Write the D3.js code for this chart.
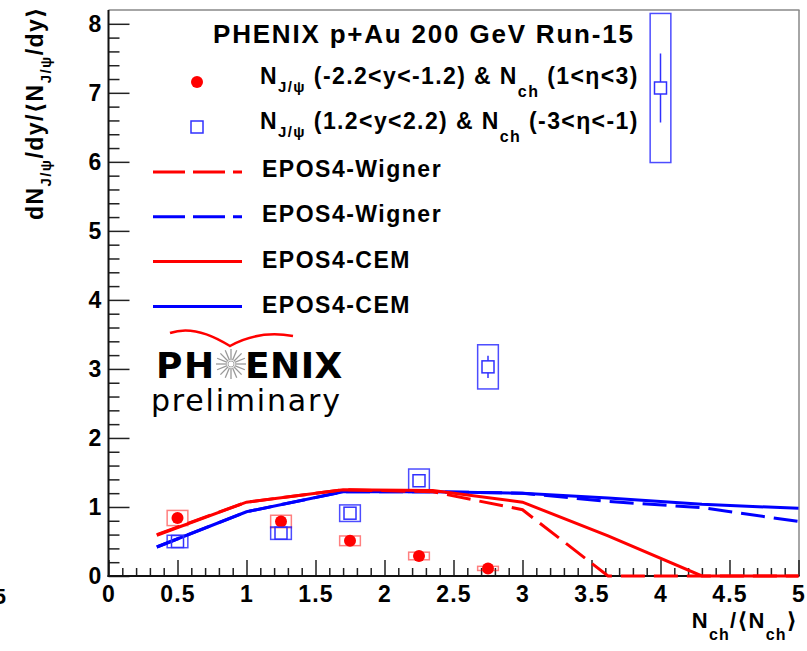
<!DOCTYPE html>
<html>
<head>
<meta charset="utf-8">
<script src="https://cdn.jsdelivr.net/npm/d3@7"></script>
<style>
    body { margin: 0; background: #fff; }
    svg { display: block; }
    text { font-family: "Liberation Sans", Arial, "DejaVu Sans", sans-serif; }
</style>
</head>
<body>
<div id="chart"></div>
<script>
// data points
const redX = [0.5, 1.25, 1.75, 2.25, 2.75];
const redY = [0.84, 0.79, 0.51, 0.29, 0.11];
const redSys = [0.11, 0.09, 0.07, 0.055, 0.03];

const blueX = [0.5, 1.25, 1.75, 2.25, 2.75, 4.0];
const blueY = [0.5, 0.62, 0.91, 1.38, 3.03, 7.07];
const blueStat = [0.03, 0.04, 0.05, 0.08, 0.16, 0.5];
const blueSys = [0.09, 0.09, 0.12, 0.17, 0.32, 1.08];

// EPOS4 model curves
const modelX = [0.35, 1.0, 1.7, 2.35, 3.0, 3.62, 4.3, 5.0];
const redCEM = [0.59, 1.07, 1.25, 1.24, 1.07, 0.58, 0, 0];
const redWigner = [0.6, 1.07, 1.25, 1.22, 0.96, 0, 0, 0];
const blueCEM = [0.42, 0.93, 1.22, 1.22, 1.2, 1.13, 1.04, 0.98];
const blueWigner = [0.42, 0.93, 1.22, 1.22, 1.2, 1.08, 0.99, 0.79];

// ticks
const xMajor = [0, 0.5, 1, 1.5, 2, 2.5, 3, 3.5, 4, 4.5, 5];
const yMajor = [0, 1, 2, 3, 4, 5, 6, 7, 8];

const legendTitle = "PHENIX p+Au 200 GeV Run-15";
const curveLabels = ["EPOS4-Wigner", "EPOS4-Wigner", "EPOS4-CEM", "EPOS4-CEM"];

// chart size
const width = 807;
const height = 651;
const frame = {left: 108.5, right: 798.5, top: 10, bottom: 576};
const red = "#ff0000";
const blue = "#0000ff";

const xScale = d3.scaleLinear().domain([0, 5]).range([frame.left, frame.right]);
const yScale = d3.scaleLinear().domain([0, 8.2]).range([frame.bottom, frame.top]);

const svg = d3.select("#chart").append("svg")
    .attr("width", width)
    .attr("height", height);

// helper for text with subscripts: parts = [text, shift, size]
function richText(sel, parts, size) {
    let cur = 0;
    parts.forEach(function(p) {
        const shift = p[1] || 0;
        sel.append("tspan")
            .attr("dy", shift - cur)
            .attr("font-size", p[2] || size)
            .text(p[0]);
        cur = shift;
    });
}

// frame (top and right are grey)
svg.append("line")
    .attr("x1", frame.left).attr("x2", frame.right + 1)
    .attr("y1", frame.top).attr("y2", frame.top)
    .attr("stroke", "#888").attr("stroke-width", 1.5);
svg.append("line")
    .attr("x1", frame.right + 0.5).attr("x2", frame.right + 0.5)
    .attr("y1", frame.top).attr("y2", frame.bottom)
    .attr("stroke", "#888").attr("stroke-width", 1.5);

// minor ticks
const xMinor = d3.range(0, 50).map(function(i) { return i / 10; }).filter(function(v) { return Math.round(v * 10) % 5 !== 0; });
const yMinor = d3.range(1, 41).map(function(i) { return i / 5; }).filter(function(v) { return Math.round(v * 5) % 5 !== 0; });

svg.append("g")
    .attr("class", "x-minor")
    .attr("transform", "translate(0," + frame.bottom + ")")
    .call(d3.axisBottom(xScale).tickValues(xMinor).tickSize(-8).tickFormat(""));

svg.append("g")
    .attr("class", "y-minor")
    .attr("transform", "translate(" + frame.left + ",0)")
    .call(d3.axisLeft(yScale).tickValues(yMinor).tickSize(-11).tickFormat(""));

// major axes
const xAxis = d3.axisBottom(xScale).tickValues(xMajor).tickSize(-16).tickPadding(10)
    .tickFormat(function(d) { return d3.format("")(d); });
const yAxis = d3.axisLeft(yScale).tickValues(yMajor).tickSize(-21).tickPadding(6);

svg.append("g")
    .attr("class", "x-axis axis")
    .attr("transform", "translate(0," + frame.bottom + ")")
    .call(xAxis);

svg.append("g")
    .attr("class", "y-axis axis")
    .attr("transform", "translate(" + frame.left + ",0)")
    .call(yAxis);

svg.selectAll(".axis, .x-minor, .y-minor").select(".domain").remove();
svg.selectAll(".tick line").attr("stroke", "#222").attr("stroke-width", 1.5);
svg.selectAll(".axis text")
    .attr("font-size", 23)
    .attr("font-weight", "bold")
    .attr("fill", "#000")
    .attr("letter-spacing", 1.2)
    .style("font-family", "'Liberation Sans', Arial, sans-serif");

// axis lines
svg.append("line")
    .attr("x1", frame.left).attr("x2", frame.left)
    .attr("y1", frame.top).attr("y2", frame.bottom + 1)
    .attr("stroke", "#111").attr("stroke-width", 2);
svg.append("line")
    .attr("x1", frame.left - 1).attr("x2", frame.right + 1)
    .attr("y1", frame.bottom).attr("y2", frame.bottom)
    .attr("stroke", "#111").attr("stroke-width", 2);

// axis titles
const xTitle = svg.append("text")
    .attr("x", 798)
    .attr("y", 628)
    .attr("text-anchor", "end")
    .attr("font-weight", "bold")
    .attr("letter-spacing", 1.2);
richText(xTitle, [["N", 0], ["ch", 12, 16], ["/\u27E8N", 0], ["ch", 12, 16], ["\u27E9", 0]], 22);

const yTitle = svg.append("text")
    .attr("transform", "translate(43,6) rotate(-90)")
    .attr("text-anchor", "end")
    .attr("font-weight", "bold")
    .attr("letter-spacing", 1.4);
richText(yTitle, [["dN", 0], ["J/\u03C8", 8, 15], ["/dy/\u27E8N", 0], ["J/\u03C8", 8, 15], ["/dy\u27E9", 0]], 23);

// clipped glyph at the left edge of the page
svg.append("text")
    .attr("x", 6).attr("y", 604)
    .attr("text-anchor", "end")
    .attr("font-size", 22)
    .attr("font-weight", "bold")
    .text("5");

// systematic boxes
function sysBoxes(xs, ys, sys, color, opacity) {
    svg.append("g").selectAll("rect").data(xs).enter()
        .append("rect")
            .attr("x", function(d) { return xScale(d - 0.075); })
            .attr("width", function(d) { return xScale(d + 0.075) - xScale(d - 0.075); })
            .attr("y", function(d, i) { return yScale(ys[i] + sys[i]); })
            .attr("height", function(d, i) { return yScale(ys[i] - sys[i]) - yScale(ys[i] + sys[i]); })
            .attr("fill", "none")
            .attr("stroke", color)
            .attr("stroke-opacity", opacity)
            .attr("stroke-width", 1.5);
}
sysBoxes(redX, redY, redSys, red, 0.5);
sysBoxes(blueX, blueY, blueSys, blue, 0.7);

// blue statistical error bars (outside the marker)
const statG = svg.append("g");
blueX.forEach(function(d, i) {
    const cx = xScale(d);
    const cy = yScale(blueY[i]);
    const top = yScale(blueY[i] + blueStat[i]);
    const bot = yScale(blueY[i] - blueStat[i]);
    if (cy - top > 6) {
        statG.append("line").attr("x1", cx).attr("x2", cx).attr("y1", top).attr("y2", cy - 6);
        statG.append("line").attr("x1", cx).attr("x2", cx).attr("y1", cy + 6).attr("y2", bot);
    }
});
statG.selectAll("line").attr("stroke", "#3030ff").attr("stroke-width", 1.5);

// model curves
const line = d3.line()
    .x(function(d) { return xScale(d[0]); })
    .y(function(d) { return yScale(d[1]); });

function curve(ys, color, dashed) {
    svg.append("path")
        .datum(modelX.map(function(x, i) { return [x, ys[i]]; }))
        .attr("d", line)
        .attr("fill", "none")
        .attr("stroke", color)
        .attr("stroke-width", 3)
        .attr("stroke-dasharray", dashed ? "24,9" : null);
}
curve(blueCEM, blue, false);
curve(blueWigner, blue, true);
curve(redCEM, red, false);
curve(redWigner, red, true);

// markers
svg.append("g").selectAll("circle").data(redX).enter()
    .append("circle")
        .attr("cx", function(d) { return xScale(d); })
        .attr("cy", function(d, i) { return yScale(redY[i]); })
        .attr("r", 6)
        .attr("fill", red);

svg.append("g").selectAll("rect").data(blueX).enter()
    .append("rect")
        .attr("x", function(d) { return xScale(d) - 6; })
        .attr("y", function(d, i) { return yScale(blueY[i]) - 6; })
        .attr("width", 12)
        .attr("height", 12)
        .attr("fill", "none")
        .attr("stroke", "#3030ff")
        .attr("stroke-width", 1.5);

// legend
const legend = svg.append("g").attr("class", "legend");

legend.append("text")
    .attr("x", 213).attr("y", 43)
    .attr("font-size", 26)
    .attr("font-weight", "bold")
    .attr("letter-spacing", 1.8)
    .text(legendTitle);

legend.append("circle").attr("cx", 197).attr("cy", 82).attr("r", 6).attr("fill", red);
legend.append("rect")
    .attr("x", 191).attr("y", 121).attr("width", 12).attr("height", 12)
    .attr("fill", "none").attr("stroke", "#3030ff").attr("stroke-width", 1.5);

const entry1 = legend.append("text").attr("x", 260).attr("y", 84)
    .attr("font-weight", "bold").attr("letter-spacing", 1.4);
richText(entry1, [["N", 0], ["J/\u03C8", 8, 15], [" (-2.2<y<-1.2) & N", 0], ["ch", 13, 16], [" (1<\u03B7<3)", 0]], 23);

const entry2 = legend.append("text").attr("x", 260).attr("y", 129)
    .attr("font-weight", "bold").attr("letter-spacing", 1.4);
richText(entry2, [["N", 0], ["J/\u03C8", 8, 15], [" (1.2<y<2.2) & N", 0], ["ch", 13, 16], [" (-3<\u03B7<-1)", 0]], 23);

const curveColors = [red, blue, red, blue];
const curveDash = [true, true, false, false];
curveLabels.forEach(function(label, i) {
    const y = 172 + i * 44.8;
    legend.append("line")
        .attr("x1", 153).attr("x2", 242)
        .attr("y1", y).attr("y2", y)
        .attr("stroke", curveColors[i])
        .attr("stroke-width", 3)
        .attr("stroke-dasharray", curveDash[i] ? "32,8" : null);
    legend.append("text")
        .attr("x", 262).attr("y", y + 5 + i * 0.6)
        .attr("font-size", 23)
        .attr("font-weight", "bold")
        .attr("letter-spacing", 1.5)
        .text(label);
});

// PHENIX preliminary logo
const logo = svg.append("g").attr("class", "logo");

logo.append("path")
    .attr("d", "M170,333 Q195,324 230,346 Q258,330 293,336")
    .attr("fill", "none")
    .attr("stroke", red)
    .attr("stroke-width", 2.5);

logo.append("text")
    .attr("x", 156).attr("y", 378)
    .attr("font-size", 36)
    .attr("font-weight", "bold")
    .attr("letter-spacing", 1.5)
    .style("font-family", "'DejaVu Sans', sans-serif")
    .text("PH");

logo.append("text")
    .attr("x", 245).attr("y", 378)
    .attr("font-size", 36)
    .attr("font-weight", "bold")
    .attr("letter-spacing", 0.5)
    .style("font-family", "'DejaVu Sans', sans-serif")
    .text("ENIX");

const burst = logo.append("g").attr("transform", "translate(231,364)");
d3.range(16).forEach(function(i) {
    const a = i * Math.PI / 8;
    burst.append("line")
        .attr("x1", 4 * Math.cos(a)).attr("y1", 4 * Math.sin(a))
        .attr("x2", 15 * Math.cos(a)).attr("y2", 15 * Math.sin(a))
        .attr("stroke", "#999")
        .attr("stroke-width", 1.3);
});
burst.append("circle").attr("r", 3).attr("fill", "none").attr("stroke", "#aaa").attr("stroke-width", 1);

logo.append("text")
    .attr("x", 151).attr("y", 411)
    .attr("font-size", 30)
    .attr("letter-spacing", 1.8)
    .style("font-family", "'DejaVu Sans', sans-serif")
    .text("preliminary");
</script>
</body>
</html>
